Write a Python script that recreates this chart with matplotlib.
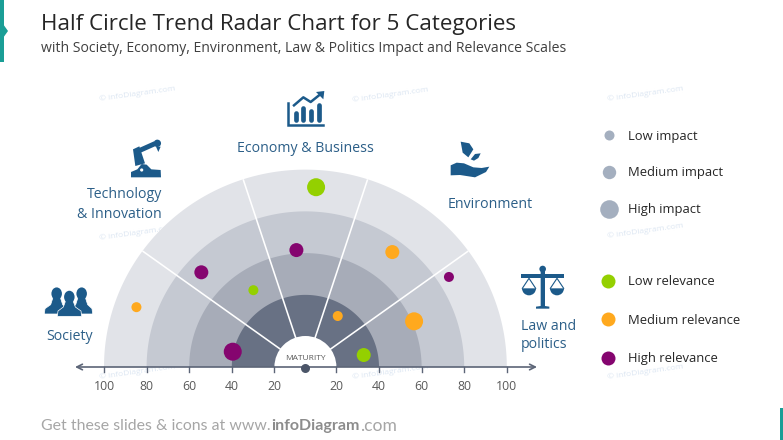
# half circle trend radar, slide style
import numpy as np
import matplotlib
matplotlib.use('Agg')
import matplotlib.pyplot as plt
from matplotlib.patches import Wedge, Circle, Polygon, Rectangle, Ellipse

plt.rcParams['font.family'] = ['Open Sans', 'DejaVu Sans']

# data
ring_levels = [100, 80, 60, 40]
ring_colors = ['#E1E3E8', '#C5C9D2', '#A7ACB8', '#687184']
spoke_angles = [36, 72, 108, 144]
tick_values = [20, 40, 60, 80, 100]

point_maturity = [89.6, 71.5, 49, 40.3, 60.5, 90, 73.1, 85, 33.8, 60.8, 33.4]
point_angle = [160.5, 137.7, 124.1, 168.1, 94.4, 86.6, 52.9, 32.1, 57.6, 22.8, 11.6]
point_impact = ['low', 'med', 'low', 'high', 'med', 'high', 'med', 'low', 'low', 'high', 'med']
point_relevance = ['med', 'high', 'low', 'high', 'high', 'low', 'med', 'high', 'med', 'med', 'low']

impact_labels = ['Low impact', 'Medium impact', 'High impact']
relevance_labels = ['Low relevance', 'Medium relevance', 'High relevance']

relevance_color = {'low': '#94D000', 'med': '#FFA91E', 'high': '#85056F'}
impact_radius = {'low': 5.0, 'med': 7.0, 'high': 9.0}

BLUE = '#1C5A8A'
LABEL = '#2C5F88'
TEAL = '#1A9E96'
cx, cy = 305.4, 367.0
SQUISH = 0.98  # rings are a bit flatter than a true circle


def rad(m):
    # the axis is squeezed below 20, so the scale starts from there
    return 31 + (np.asarray(m, dtype=float) - 20) * 2.13


def size(r):
    return (2 * r * 0.72) ** 2


fig = plt.figure(figsize=(7.83, 4.40), dpi=100)
ax = fig.add_axes([0, 0, 1, 1])
ax.set_xlim(0, 783)
ax.set_ylim(440, 0)
ax.axis('off')

# watermarks
for wx, wy in [(137, 94), (390, 95), (645, 94), (137, 233), (390, 233), (645, 231),
               (137, 372), (390, 372), (645, 372)]:
    ax.text(wx, wy, '© infoDiagram.com', fontsize=6, color='#DCE6F2', rotation=8,
            ha='center', va='center', zorder=1)

# rings
th = np.linspace(0, np.pi, 200)
for lev, col in zip(ring_levels, ring_colors):
    ax.fill(cx + rad(lev) * np.cos(th), cy - SQUISH * rad(lev) * np.sin(th), fc=col, ec='none', zorder=2)
for a in spoke_angles:
    t = np.radians(a)
    ax.plot([cx, cx + rad(100) * np.cos(t)], [cy, cy - SQUISH * rad(100) * np.sin(t)],
            color='white', lw=1.15, zorder=3, solid_capstyle='butt')
ax.add_patch(Wedge((cx, cy), rad(20), 180, 360, fc='white', ec='none', zorder=4))

# points
t = np.radians(point_angle)
r = rad(point_maturity)
ax.scatter(cx + r * np.cos(t), cy - r * np.sin(t),
           s=[size(impact_radius[i]) for i in point_impact],
           c=[relevance_color[k] for k in point_relevance], linewidths=0, zorder=5)

# axis
AX_COL = '#5C6577'
ax.annotate('', xy=(75, cy), xytext=(305, cy), zorder=6,
            arrowprops=dict(arrowstyle='->', color=AX_COL, lw=1.2, shrinkA=0, shrinkB=0))
ax.annotate('', xy=(537, cy), xytext=(305, cy), zorder=6,
            arrowprops=dict(arrowstyle='->', color=AX_COL, lw=1.2, shrinkA=0, shrinkB=0))
for v in tick_values:
    for sgn in (-1, 1):
        x = cx + sgn * rad(v)
        ax.plot([x, x], [cy, cy + 5.5], color=AX_COL, lw=1, zorder=6)
        ax.text(x, 386, str(v), fontsize=8.8, color='#595959', ha='center', va='center')
ax.scatter([cx], [cy + 1], s=size(4.5), c='#4B5568', linewidths=0, zorder=7)
ax.text(cx, 358, 'MATURITY', fontsize=6, color='#595959', ha='center', va='center', zorder=7)

# title
ax.text(41, 24.5, 'Half Circle Trend Radar Chart for 5 Categories', fontsize=16.1,
        color='#262626', ha='left', va='center')
ax.text(41, 48, 'with Society, Economy, Environment, Law & Politics Impact and Relevance Scales',
        fontsize=10.05, color='#404040', ha='left', va='center')

# category labels
LAB_FS = 10.15
ax.text(305, 149, 'Economy & Business', fontsize=LAB_FS, color=LABEL, ha='center', va='center')
ax.text(162, 195, 'Technology', fontsize=LAB_FS, color=LABEL, ha='right', va='center')
ax.text(162, 214, '& Innovation', fontsize=LAB_FS, color=LABEL, ha='right', va='center')
ax.text(448, 204, 'Environment', fontsize=LAB_FS, color=LABEL, ha='left', va='center')
ax.text(46, 336, 'Society', fontsize=LAB_FS, color=LABEL, ha='left', va='center')
ax.text(521, 326, 'Law and', fontsize=LAB_FS, color=LABEL, ha='left', va='center')
ax.text(521, 345, 'politics', fontsize=LAB_FS, color=LABEL, ha='left', va='center')

# legend
for y, lab, rr in zip([135.3, 172, 208.7], impact_labels, [5, 6.7, 9.3]):
    ax.scatter([608.5], [y], s=size(rr), c='#A4AFBF', linewidths=0)
    ax.text(628, y + 0.8, lab, fontsize=9.35, color='#262626', ha='left', va='center')
for y, lab, key in zip([280.7, 319.3, 357.7], relevance_labels, ['low', 'med', 'high']):
    ax.scatter([608], [y], s=size(7), c=relevance_color[key], linewidths=0)
    ax.text(628, y + 0.8, lab, fontsize=9.35, color='#262626', ha='left', va='center')

# footer
FOOT = '#A6A6A6'
FOOT_FAM = ['Lato', 'DejaVu Sans']
ax.text(41, 426, 'Get these slides & icons at www.', fontsize=11.4, color=FOOT, ha='left', va='center',
        family=FOOT_FAM)
ax.text(271.5, 426, 'infoDiagram', fontsize=11.5, color='#8C8C8C', fontweight='bold', ha='left', va='center',
        family=FOOT_FAM)
ax.text(360, 426, '.com', fontsize=12.6, color=FOOT, ha='left', va='center', family=FOOT_FAM)

# slide decoration
ax.add_patch(Rectangle((0, 0), 4, 62, fc=TEAL, ec='none'))
ax.add_patch(Polygon([(3, 24), (8, 31), (3, 38)], fc=TEAL, ec='none'))
ax.add_patch(Rectangle((780, 408), 3, 32, fc=TEAL, ec='none'))


# icons, drawn from zoomed crops
def zp(pts, ox, oy):
    return [(ox + a / 3, oy + b / 3) for a, b in pts]


def poly(pts, ox, oy, col=BLUE, **kw):
    ax.add_patch(Polygon(zp(pts, ox, oy), fc=col, **kw))


# robot arm
ox, oy = 30, 80
poly([(303, 292), (303, 276), (322, 268), (335, 252), (350, 254), (364, 268), (392, 270), (393, 292)], ox, oy, ec='none')
poly([(309, 208), (328, 199), (345, 250), (316, 258)], ox, oy, ec='none')
poly([(325, 205), (372, 184), (377, 198), (330, 219)], ox, oy, ec='none')
ax.add_patch(Circle((ox + 382 / 3, oy + 190 / 3), 3.7, fc=BLUE, ec='none'))
poly([(378, 200), (392, 200), (385, 216)], ox, oy, ec='none')
ax.add_patch(Circle((ox + 335 / 3, oy + 270 / 3), 1.6, fc='white', ec='none', zorder=3))

# people
for hx, hy, x0, x1, yb, z in [(80, 641, 43, 112, 702, 3), (155, 641, 122, 188, 702, 3), (118, 651, 82, 155, 709, 4)]:
    poly([(x0, yb), (x0 + 2, yb - 16), (hx - 18, yb - 28), (hx - 10, hy + 8), (hx + 10, hy + 8),
          (hx + 18, yb - 28), (x1 - 2, yb - 16), (x1, yb)], ox, oy, ec='white', lw=0.5, zorder=z)
    ax.add_patch(Ellipse((ox + hx / 3, oy + hy / 3), 10.5, 12.5, fc=BLUE, ec='none', zorder=z))

# chart icon
ox, oy = 230, 80
ax.plot([ox + 175 / 3, ox + 175 / 3, ox + 280 / 3], [oy + 68 / 3, oy + 136 / 3, oy + 136 / 3],
        color=BLUE, lw=1.8, solid_joinstyle='miter')
for bx, btop in [(197, 100), (220, 84), (243, 92), (266, 74)]:
    ax.plot([ox + bx / 3, ox + bx / 3], [oy + 120 / 3, oy + btop / 3], color=BLUE, lw=3.4,
            solid_capstyle='round')
ax.plot([ox + 192 / 3, ox + 220 / 3, ox + 242 / 3, ox + 272 / 3], [oy + 76 / 3, oy + 52 / 3, oy + 66 / 3, oy + 42 / 3],
        color=BLUE, lw=1.8)
poly([(283, 33), (258, 36), (280, 58)], ox, oy, ec='none')

# hand and leaves
poly([(662, 256), (680, 248), (702, 250), (730, 262), (755, 264), (778, 260), (768, 276), (735, 292),
      (690, 285), (662, 286)], ox, oy, ec='none')
poly([(692, 185), (718, 190), (730, 208), (715, 232), (698, 218)], ox, oy, ec='none')
poly([(722, 238), (735, 222), (752, 220), (745, 234), (732, 242)], ox, oy, ec='none')

# scales
ox, oy = 510, 120
poly([(92, 450), (105, 450), (105, 558), (118, 560), (118, 566), (78, 566), (78, 560), (92, 558)], ox, oy, ec='none')
ax.add_patch(Circle((ox + 98 / 3, oy + 447 / 3), 3.3, fc=BLUE, ec='none'))
poly([(33, 463), (163, 463), (163, 473), (33, 473)], ox, oy, ec='none')
for px in [57, 141]:
    ax.add_patch(Wedge((ox + px / 3, oy + 505 / 3), 7, 0, 180, fc=BLUE, ec='none'))
    ax.plot([ox + (px - 20) / 3, ox + px / 3, ox + (px + 20) / 3], [oy + 505 / 3, oy + 475 / 3, oy + 505 / 3],
            color=BLUE, lw=0.8)

fig.savefig('out.png', dpi=100)
